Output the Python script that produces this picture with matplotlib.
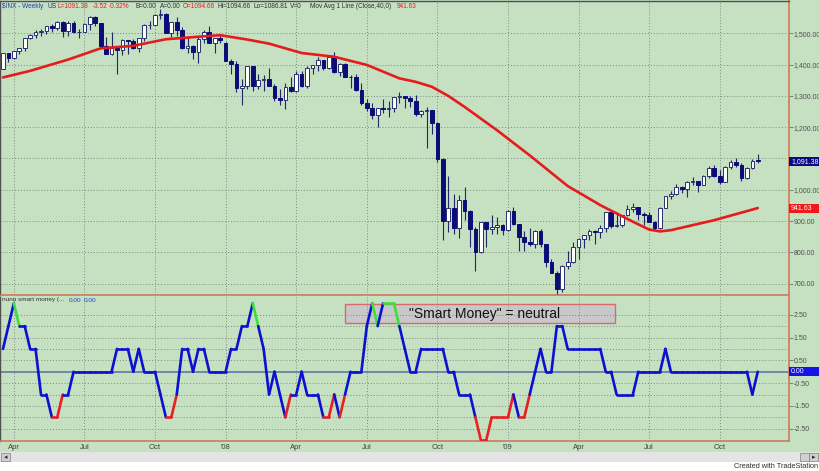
import matplotlib
matplotlib.use('Agg')
import matplotlib.pyplot as plt
import matplotlib.transforms as mtransforms
from matplotlib.patches import Rectangle

plt.rcParams['font.family'] = ['Liberation Sans', 'DejaVu Sans']

# ---------------- data (weekly $INX, Mar 2007 - Nov 2009) ----------------
opens = [1386.95, 1436.11, 1420.83, 1443.76, 1452.85, 1484.35, 1494.07, 1505.62, 1505.85, 1522.75,
         1515.73, 1536.34, 1507.67, 1532.91, 1502.56, 1503.35, 1530.44, 1552.50, 1534.10, 1458.95,
         1433.06, 1453.64, 1445.94, 1479.37, 1473.99, 1453.55, 1484.25, 1525.75, 1526.75, 1557.59,
         1561.80, 1500.63, 1535.28, 1509.65, 1453.70, 1458.74, 1440.70, 1481.14, 1504.66, 1467.95,
         1484.46, 1467.97, 1411.63, 1401.02, 1325.19, 1330.61, 1395.42, 1331.29, 1349.99, 1353.11,
         1330.63, 1293.37, 1288.14, 1329.51, 1315.22, 1370.40, 1332.83, 1390.33, 1397.84, 1413.90,
         1388.28, 1425.35, 1375.93, 1400.38, 1360.68, 1360.03, 1317.93, 1278.38, 1262.90, 1239.49,
         1260.68, 1257.76, 1260.31, 1296.32, 1298.20, 1292.20, 1282.83, 1242.31, 1251.70, 1255.08,
         1213.27, 1099.23, 899.22, 940.55, 876.77, 968.75, 930.99, 873.29, 800.03, 896.24,
         876.07, 879.73, 887.88, 872.80, 931.80, 890.35, 850.12, 831.95, 825.88, 868.60,
         826.84, 770.05, 735.09, 683.38, 756.55, 768.54, 815.94, 842.50, 856.56, 869.60,
         866.23, 877.52, 929.23, 882.88, 887.00, 919.14, 940.09, 946.21, 921.23, 918.90,
         896.42, 879.13, 940.38, 979.26, 987.48, 1010.48, 1004.09, 1026.13, 1028.93, 1016.40,
         1042.73, 1068.30, 1044.38, 1025.21, 1071.49, 1087.68, 1079.60, 1036.19, 1069.30, 1094.13]
highs = [1437.65, 1437.77, 1444.88, 1453.11, 1485.19, 1498.02, 1510.34, 1513.80, 1522.75, 1529.31,
         1540.56, 1539.12, 1538.71, 1539.78, 1514.96, 1532.40, 1555.10, 1555.90, 1534.26, 1488.30,
         1503.89, 1456.02, 1481.47, 1479.37, 1481.49, 1485.40, 1530.27, 1538.74, 1561.91, 1576.09,
         1564.74, 1535.28, 1552.76, 1520.50, 1492.14, 1462.18, 1488.94, 1510.63, 1523.57, 1485.40,
         1498.85, 1471.77, 1416.97, 1411.06, 1354.15, 1396.02, 1396.02, 1369.12, 1367.94, 1388.34,
         1336.48, 1321.68, 1341.34, 1359.68, 1380.91, 1378.75, 1395.90, 1399.79, 1422.72, 1415.00,
         1425.82, 1440.24, 1406.32, 1404.05, 1366.59, 1370.63, 1341.41, 1290.68, 1278.70, 1262.90,
         1291.17, 1284.37, 1297.85, 1313.15, 1298.20, 1300.68, 1303.04, 1255.09, 1265.12, 1255.08,
         1215.77, 1102.00, 1044.31, 985.44, 984.38, 1007.51, 936.37, 882.29, 896.25, 896.24,
         918.85, 914.66, 890.00, 934.73, 943.85, 890.35, 868.67, 877.86, 870.75, 875.01,
         826.84, 780.12, 741.76, 758.29, 803.04, 832.98, 845.61, 856.91, 875.63, 871.79,
         888.70, 930.17, 934.42, 930.48, 920.00, 951.69, 956.23, 946.30, 927.99, 930.17,
         898.72, 943.96, 979.79, 996.68, 1018.00, 1012.25, 1027.59, 1039.47, 1028.93, 1048.18,
         1074.77, 1080.15, 1063.40, 1076.19, 1096.56, 1101.36, 1085.38, 1071.48, 1097.64, 1113.69]
lows = [1386.95, 1408.90, 1416.37, 1433.93, 1444.02, 1480.86, 1484.99, 1491.42, 1498.34, 1505.18,
        1510.81, 1487.41, 1492.65, 1500.25, 1484.18, 1503.35, 1510.42, 1524.15, 1458.95, 1433.06,
        1429.41, 1370.60, 1430.54, 1432.76, 1449.58, 1439.29, 1476.65, 1514.66, 1526.75, 1546.72,
        1500.63, 1489.56, 1492.65, 1451.07, 1438.53, 1419.28, 1406.10, 1469.21, 1467.78, 1435.65,
        1468.18, 1411.19, 1370.10, 1313.00, 1270.05, 1322.26, 1316.75, 1321.89, 1316.75, 1330.63,
        1282.73, 1272.35, 1256.98, 1313.36, 1312.62, 1328.73, 1324.35, 1370.00, 1379.95, 1383.07,
        1386.20, 1373.07, 1362.30, 1360.68, 1326.05, 1316.78, 1272.00, 1252.01, 1225.35, 1200.44,
        1244.86, 1233.06, 1248.47, 1276.26, 1261.69, 1263.21, 1236.45, 1233.81, 1133.50, 1179.11,
        1088.11, 839.80, 865.83, 860.00, 845.27, 904.88, 818.69, 741.02, 798.20, 815.69,
        857.72, 857.38, 857.09, 866.97, 888.31, 804.30, 805.22, 821.67, 812.97, 818.41,
        754.25, 734.52, 666.79, 672.88, 747.39, 766.56, 779.81, 814.53, 838.75, 826.83,
        847.14, 866.10, 878.94, 879.61, 881.46, 916.25, 927.68, 903.84, 888.86, 896.06,
        869.32, 875.32, 940.38, 972.00, 983.00, 991.00, 978.51, 1016.20, 991.97, 1016.40,
        1039.00, 1041.16, 1019.95, 1025.21, 1066.00, 1074.31, 1029.38, 1033.38, 1067.47, 1086.81]
closes = [1436.11, 1420.86, 1443.76, 1452.85, 1484.35, 1494.07, 1505.62, 1505.85, 1522.75, 1515.73,
          1536.34, 1507.67, 1532.91, 1502.56, 1503.35, 1530.44, 1552.50, 1534.10, 1458.95, 1433.06,
          1453.64, 1445.94, 1479.37, 1473.99, 1453.55, 1484.25, 1525.75, 1526.75, 1557.59, 1561.80,
          1500.63, 1535.28, 1509.65, 1453.70, 1458.74, 1440.70, 1481.14, 1504.66, 1467.95, 1484.46,
          1478.49, 1411.63, 1401.02, 1325.19, 1330.61, 1395.42, 1331.29, 1349.99, 1353.11, 1330.63,
          1293.37, 1288.14, 1329.51, 1315.22, 1370.40, 1332.83, 1390.33, 1397.84, 1413.90, 1388.28,
          1425.35, 1375.93, 1400.38, 1360.68, 1360.03, 1317.93, 1278.38, 1262.90, 1239.49, 1260.68,
          1257.76, 1260.31, 1296.32, 1298.20, 1292.20, 1282.83, 1242.31, 1251.70, 1255.08, 1213.27,
          1099.23, 899.22, 940.55, 876.77, 968.75, 930.99, 873.29, 800.03, 896.24, 876.07,
          879.73, 887.88, 872.80, 931.80, 890.35, 850.12, 831.95, 825.88, 868.60, 826.84,
          770.05, 735.09, 683.38, 756.55, 768.54, 815.94, 842.50, 856.56, 869.60, 866.23,
          877.52, 929.23, 882.88, 887.00, 919.14, 940.09, 946.21, 921.23, 918.90, 896.42,
          879.13, 940.38, 979.26, 987.48, 1010.48, 1004.09, 1026.13, 1028.93, 1016.40, 1042.73,
          1068.30, 1044.38, 1025.21, 1071.49, 1087.68, 1079.60, 1036.19, 1069.30, 1093.48, 1091.38]

# 40-week moving average (bar index, value)
ma_idx = [0, 5, 12, 18, 24, 30, 36, 40, 45, 49, 55, 61, 67, 73, 76, 79, 82, 85, 91, 97,
          104, 110, 116, 119, 121, 123, 125, 131, 139]
ma_val = [1359, 1380, 1416, 1452, 1460, 1481, 1489, 1494, 1480, 1467, 1437, 1425, 1399, 1356,
          1345, 1329, 1300, 1265, 1190, 1110, 1012, 951, 898, 873, 867, 871, 879, 903, 941.63]

# "nunu smart money" indicator, one value per week
smart = [1, 2, 3, 2, 2, 1, 1, -1, -1, -2,
         -2, -1, -1, 0, 0, 0, 0, 0, 0, 0,
         0, 1, 1, 1, 0, 1, 0, 0, 0, -1,
         -2, -2, -1, 1, 1, 0, 1, 1, 0, 0,
         0, 0, 1, 1, 2, 2, 3, 2, 1, -1,
         0, -1, -2, -1, -1, 0, -1, -1, -1, -2,
         -2, -1, -2, -1, 0, 0, 0, 2, 3, 2,
         3, 3, 3, 2, 1, 0, 0, 1, 1, 1,
         1, 1, 0, 0, -1, -1, -1, -2, -3, -3,
         -2, -2, -2, -2, -1, -2, -2, -1, 0, 1,
         0, 0, 2, 2, 1, 1, 1, 1, 1, 1,
         1, 0, 0, -1, -1, -1, -1, 0, 0, 0,
         0, 0, 1, 0, 0, 0, 0, 0, 0, 0,
         0, 0, 0, 0, 0, 0, 0, 0, -1, 0]

tick_idx = [2, 15, 28, 41, 54, 67, 80, 93, 106, 119, 132]
tick_lbl = ['Apr', 'Jul', 'Oct', "'08", 'Apr', 'Jul', 'Oct', "'09", 'Apr', 'Jul', 'Oct']
price_ticks = [700, 800, 900, 1000, 1100, 1200, 1300, 1400, 1500]
price_lbls = ['700.00', '800.00', '900.00', '1,000.00', '', '1,200.00', '1,300.00', '1,400.00', '1,500.00']
smart_ticks = [2.5, 1.5, 0.5, -0.5, -1.5, -2.5]
smart_lbls = ['2.50', '1.50', '0.50', '-0.50', '-1.50', '-2.50']

# ---------------- styling ----------------
W, H = 820, 471
BG = '#c6e0c2'
NAVY = '#0c0c78'
GRID = '#7d8c7d'
ORANGE = '#cf7a5a'
TXT = '#505050'

fig = plt.figure(figsize=(W / 100, H / 100), dpi=100)
fig.patch.set_facecolor('white')

def fx(x):
    return x / W

def fy(y):
    return 1 - y / H

# background areas
fig.patches.append(Rectangle((0, fy(452)), 1, 452 / H, transform=fig.transFigure,
                             facecolor=BG, edgecolor='none', zorder=0))
fig.patches.append(Rectangle((0, fy(462)), 1, 10 / H, transform=fig.transFigure,
                             facecolor='#e4e4e4', edgecolor='none', zorder=0))
for bx in (1, 800, 809):
    fig.patches.append(Rectangle((fx(bx), fy(461)), fx(9), 8 / H, transform=fig.transFigure,
                                 facecolor='#d0d0d0', edgecolor='#808080', lw=0.5, zorder=1))
fig.text(fx(5.5), fy(457), '\u25c2', fontsize=5, ha='center', va='center', color='#303030',
         family=['DejaVu Sans'])
fig.text(fx(813.5), fy(457), '\u25b8', fontsize=5, ha='center', va='center', color='#303030',
         family=['DejaVu Sans'])

XL = (-0.55, 144.75)
ax1 = fig.add_axes([0, fy(295), fx(789), (295 - 1) / H])
ax2 = fig.add_axes([0, fy(441), fx(789), (441 - 297) / H])
for ax in (ax1, ax2):
    ax.set_facecolor(BG)
    ax.set_xlim(*XL)
    for s in ('top', 'left'):
        ax.spines[s].set_color('#505050')
        ax.spines[s].set_linewidth(1.0)
    for s in ('right', 'bottom'):
        ax.spines[s].set_color(ORANGE)
        ax.spines[s].set_linewidth(1.2)
    for t in tick_idx:
        ax.axvline(t, color=GRID, lw=0.7, ls=(0, (1, 2)), zorder=1)
ax2.spines['top'].set_visible(False)

# ---------------- price panel ----------------
ax1.set_ylim(1500 - (295 - 33.3) * 3.195, 1500 + (33.3 - 1) * 3.195)
for p in price_ticks:
    ax1.axhline(p, color=GRID, lw=0.7, ls=(0, (1, 2)), zorder=1)
ax1.yaxis.tick_right()
ax1.set_yticks(price_ticks)
ax1.set_yticklabels(price_lbls)
ax1.tick_params(axis='y', length=3, width=0.6, color='#707070', pad=0.5, labelsize=5,
                labelcolor=TXT)
ax1.set_xticks([])

idx = list(range(len(closes)))
ax1.vlines(idx, lows, highs, color='#202868', lw=0.8, zorder=3)
up_i = [i for i in idx if closes[i] >= opens[i]]
dn_i = [i for i in idx if closes[i] < opens[i]]
ax1.bar(up_i, [closes[i] - opens[i] for i in up_i], bottom=[opens[i] for i in up_i],
        width=0.68, facecolor='white', edgecolor='#2a3070', linewidth=0.7, zorder=4)
ax1.bar(dn_i, [opens[i] - closes[i] for i in dn_i], bottom=[closes[i] for i in dn_i],
        width=0.68, facecolor=NAVY, edgecolor=NAVY, linewidth=0.7, zorder=4)
ax1.plot(ma_idx, ma_val, color='#e41c1c', lw=1.9, zorder=5, solid_capstyle='round',
         solid_joinstyle='round')

AXW = 31 / 789  # width of the right label boxes in axes fraction


def value_box(ax, yval, half_h, text, fc):
    blend = mtransforms.blended_transform_factory(ax.transAxes, ax.transData)
    ax.add_patch(Rectangle((1.0, yval - half_h), AXW, 2 * half_h, transform=blend,
                           facecolor=fc, edgecolor='none', clip_on=False, zorder=6))
    ax.text(1.0 + 2 / 789, yval, text, transform=blend, ha='left', va='center', fontsize=5,
            color='white', clip_on=False, zorder=7)


value_box(ax1, closes[-1], 4.5 * 3.195, '1,091.38', '#0a0a82')
value_box(ax1, ma_val[-1], 4.5 * 3.195, '941.63', '#f01818')

# header line
hy = fy(6)
hdr = [(2, '$INX - Weekly', '#2040c0'), (48, 'US', '#203070'), (58, 'L=1091.38', '#e02020'),
       (93, '-3.52', '#e02020'), (109, '-0.32%', '#e02020'), (136, 'B=0.00', '#303030'),
       (160, 'A=0.00', '#303030'), (183, 'O=1094.66', '#e02020'), (218, 'Hi=1094.66', '#303030'),
       (254, 'Lo=1086.81', '#303030'), (290, 'V=0', '#303030'),
       (310, 'Mov Avg 1 Line (Close,40,0)', '#303030'), (397, '941.63', '#e02020')]
for x, s, c in hdr:
    fig.text(fx(x), hy, s, fontsize=4.7, color=c, ha='left', va='center', zorder=10)

# ---------------- smart money panel ----------------
ax2.set_ylim((371.7 - 441) / 22.8, (371.7 - 297) / 22.8)
for g in [2.5, 2.0, 1.5, 1.0, 0.5, -0.5, -1.0, -1.5, -2.0, -2.5]:
    ax2.axhline(g, color=GRID, lw=0.7, ls=(0, (1, 2)), zorder=1)
ax2.axhline(0, color='#56709a', lw=1.1, zorder=2)
ax2.yaxis.tick_right()
ax2.set_yticks(smart_ticks)
ax2.set_yticklabels(smart_lbls)
ax2.tick_params(axis='y', length=3, width=0.6, color='#707070', pad=0.5, labelsize=5,
                labelcolor=TXT)
ax2.set_xticks(tick_idx)
ax2.set_xticklabels(tick_lbl)
ax2.tick_params(axis='x', length=0, pad=2.2, labelsize=5.5, labelcolor='#404040')

for i in range(1, len(smart)):
    prev = smart[i - 1]
    if prev >= 3:
        col = '#3ce03c'
    elif prev <= -2:
        col = '#e82020'
    else:
        col = '#0c10d0'
    ax2.plot([i - 1, i], [prev, smart[i]], color=col, lw=1.9, solid_capstyle='round', zorder=5)

value_box(ax2, 0, 4.5 / 22.8, '0.00', '#1414e6')

# annotation box
fig.patches.append(Rectangle((fx(345), fy(323)), fx(270), 19 / H, transform=fig.transFigure,
                             facecolor='#c8c8c8', edgecolor='#d86a6a', lw=1.0, zorder=1.5))
ax2.set_zorder(2)
ax2.patch.set_alpha(0)
ax1.set_zorder(1)
fig.text(fx(485), fy(314), '"Smart Money" = neutral', fontsize=10, color='#111111',
         ha='center', va='center', zorder=20)

fig.text(fx(2), fy(300), 'nunu smart money (...', fontsize=4.6, color='#303030', ha='left',
         va='center')
fig.text(fx(69), fy(300), '0.00', fontsize=4.6, color='#2040d0', ha='left', va='center')
fig.text(fx(84), fy(300), '0.00', fontsize=4.6, color='#2040d0', ha='left', va='center')

fig.text(fx(818), fy(467), 'Created with TradeStation', fontsize=5.3, color='#303030',
         ha='right', va='center')

fig.savefig('out.png', dpi=100, facecolor=fig.get_facecolor())
